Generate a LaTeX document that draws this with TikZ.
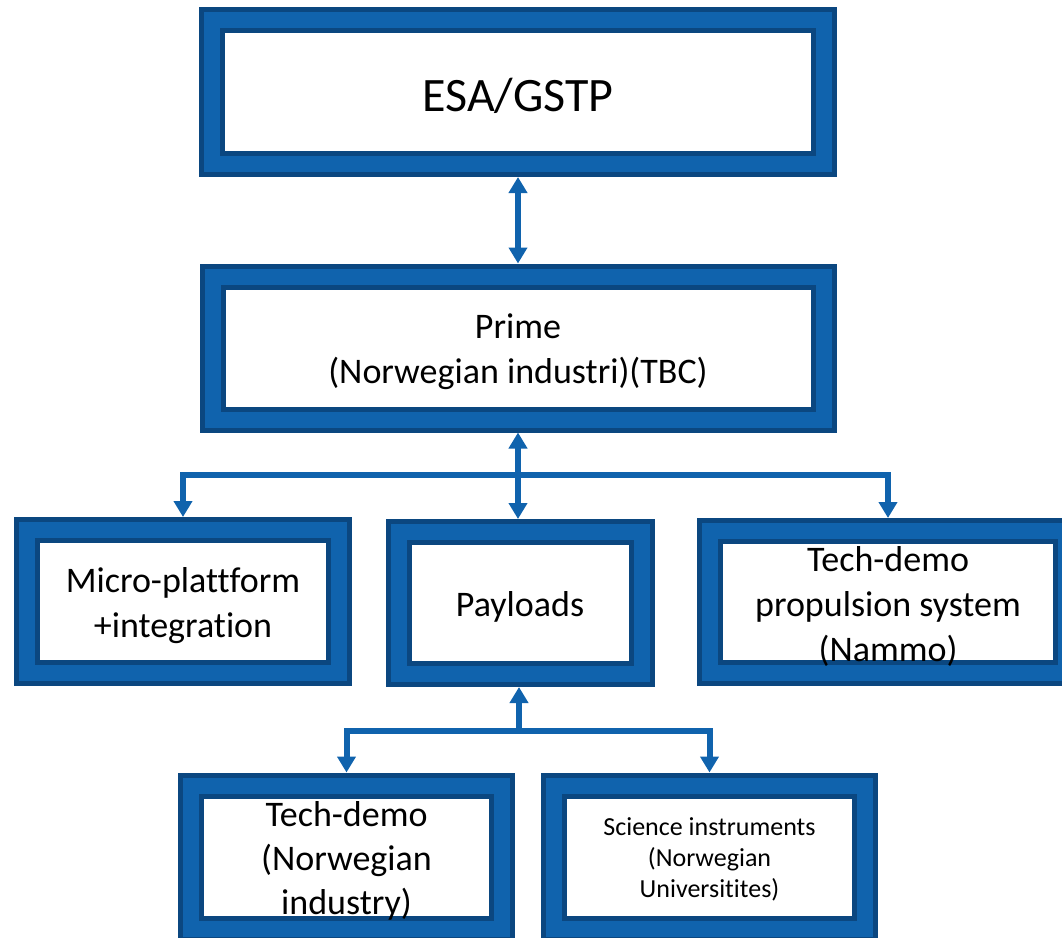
\documentclass[tikz,border=0pt]{standalone}
\usepackage{fontspec}
\setmainfont{Carlito}[Ligatures=NoCommon]
\usetikzlibrary{arrows.meta}

\definecolor{framedark}{RGB}{11,71,128}
\definecolor{frameblue}{RGB}{16,99,173}

\tikzset{
  unit/.style={draw=framedark, fill=white, line width=5pt, inner sep=0pt, outer sep=23.5pt,
    preaction={draw=framedark, line width=47pt},
    preaction={draw=frameblue, line width=37pt}},
  boxtext/.style={font=\fontsize{36}{45}\selectfont, align=center, inner sep=0pt, yshift=-4pt},
  smalltext/.style={font=\fontsize{26}{31}\selectfont, align=center, inner sep=0pt, yshift=-2pt},
  link/.style={draw=frameblue, line width=6pt, >={Triangle[width=18pt,length=16pt]}}
}

\begin{document}
\begin{tikzpicture}[x=1pt,y=-1pt]
\useasboundingbox (0,0) rectangle (1062,937);
\clip (0,0) rectangle (1062,937);

% boxes
\node[unit, minimum width=591pt, minimum height=123pt,
  label={[boxtext, font=\fontsize{48}{56}\selectfont]center:ESA/GSTP}] (esa) at (518,92) {};
\node[unit, minimum width=590pt, minimum height=122pt,
  label={[boxtext]center:{Prime\\(Norwegian industri)(TBC)}}] (prime) at (518,348) {};

\node[unit, minimum width=291pt, minimum height=122pt,
  label={[boxtext]center:{Micro-plattform\\+integration}}] (micro) at (183,601.5) {};
\node[unit, minimum width=222pt, minimum height=121pt,
  label={[boxtext]center:Payloads}] (payloads) at (520,603) {};
\node[unit, minimum width=335pt, minimum height=121pt,
  label={[boxtext]center:{Tech-demo\\propulsion system\\(Nammo)}}] (prop) at (888,602) {};

\node[unit, minimum width=290pt, minimum height=122pt,
  label={[boxtext, font=\fontsize{36}{44}\selectfont]center:{Tech-demo\\(Norwegian\\industry)}}] (techdemo) at (346.5,857) {};
\node[unit, minimum width=290pt, minimum height=122pt,
  label={[smalltext]center:{Science instruments\\(Norwegian\\Universitites)}}] (science) at (709.5,857) {};

% connectors
\draw[link,<->] (esa.south) -- (prime.north);

\coordinate (busTop) at (518,475);
\draw[link,->] (busTop) -- (prime.south);
\draw[link,->] (busTop) -| (micro.north);
\draw[link,->] (busTop) -| (prop.north);
\draw[link,->] (busTop) -- (busTop |- payloads.north);

\coordinate (busLow) at (519,731);
\draw[link,->] (busLow) -- (busLow |- payloads.south);
\draw[link,->] (busLow) -| (techdemo.north);
\draw[link,->] (busLow) -| (science.north);

\end{tikzpicture}
\end{document}
